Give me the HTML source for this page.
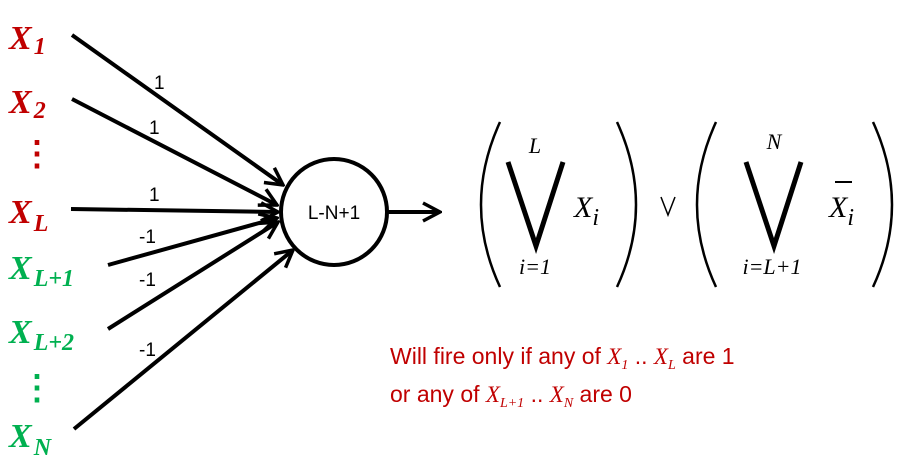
<!DOCTYPE html>
<html><head><meta charset="utf-8"><style>
html,body{margin:0;padding:0;background:#fff;}
svg{display:block;}
.lab{font-family:"Liberation Serif",serif;font-weight:bold;font-style:italic;font-size:34px;}
.red{fill:#c00000;} .grn{fill:#00b050;}
.w{font-family:"Liberation Sans",sans-serif;font-size:19px;fill:#000;}
.m{font-family:"Liberation Serif",serif;font-style:italic;fill:#000;}
.t{font-family:"Liberation Sans",sans-serif;font-size:23px;fill:#c00000;}
</style></head><body>
<svg width="908" height="473" viewBox="0 0 908 473">
<defs>
<marker id="ah2" markerWidth="22" markerHeight="22" refX="20" refY="11" orient="auto" markerUnits="userSpaceOnUse"><path d="M3,2 L20,11 L3,20" fill="none" stroke="#000" stroke-width="3.5"/></marker></defs>
<g stroke="#000" stroke-width="4" fill="none">
<line x1="72" y1="35" x2="283" y2="185" marker-end="url(#ah2)"/>
<line x1="72" y1="99" x2="277" y2="205" marker-end="url(#ah2)"/>
<line x1="71" y1="209" x2="278" y2="212" marker-end="url(#ah2)"/>
<line x1="108" y1="265" x2="277" y2="218" marker-end="url(#ah2)"/>
<line x1="108" y1="329" x2="278" y2="222" marker-end="url(#ah2)"/>
<line x1="74" y1="429" x2="293" y2="250" marker-end="url(#ah2)"/>
<line x1="388" y1="212" x2="440" y2="212" marker-end="url(#ah2)"/>
<circle cx="334" cy="212" r="53"/>
</g>
<text x="334" y="219" text-anchor="middle" class="w">L-N+1</text>
<text class="w" x="154" y="89">1</text>
<text class="w" x="149" y="134">1</text>
<text class="w" x="149" y="201">1</text>
<text class="w" x="139" y="243">-1</text>
<text class="w" x="139" y="286">-1</text>
<text class="w" x="139" y="356">-1</text>
<text class="lab red" x="9" y="49">X<tspan font-size="24" dx="2" dy="5">1</tspan></text>
<text class="lab red" x="9" y="113">X<tspan font-size="24" dx="2" dy="5">2</tspan></text>
<text class="lab red" x="20" y="165" font-size="24" style="font-style:normal">⋮</text>
<text class="lab red" x="9" y="223">X<tspan font-size="24" dx="2" dy="8">L</tspan></text>
<text class="lab grn" x="9" y="279">X<tspan font-size="24" dx="2" dy="7">L+1</tspan></text>
<text class="lab grn" x="9" y="343">X<tspan font-size="24" dx="2" dy="7">L+2</tspan></text>
<text class="lab grn" x="20" y="399" font-size="24" style="font-style:normal">⋮</text>
<text class="lab grn" x="9" y="447">X<tspan font-size="24" dx="2" dy="8">N</tspan></text>
<g stroke="#000" fill="none" stroke-width="2.5">
<path d="M500,122 Q462,205 500,287"/>
<path d="M617,122 Q655,205 617,287"/>
<path d="M716,122 Q678,205 716,287"/>
<path d="M873,122 Q911,205 873,287"/>
<path d="M508,162 L536,246 L563,162" stroke-width="5"/>
<path d="M746,162 L774,246 L801,162" stroke-width="5"/>
<path d="M661,197 L668,215 L675,197" stroke-width="1.5"/>
<line x1="835" y1="182" x2="852" y2="182" stroke-width="2"/>
</g>
<text class="m" x="535" y="153" font-size="22" text-anchor="middle">L</text>
<text class="m" x="535" y="274" font-size="22" text-anchor="middle">i=1</text>
<text class="m" x="574" y="217" font-size="30">X<tspan font-size="24" dy="8">i</tspan></text>
<text class="m" x="774" y="149" font-size="22" text-anchor="middle">N</text>
<text class="m" x="772" y="274" font-size="22" text-anchor="middle">i=L+1</text>
<text class="m" x="829" y="217" font-size="30">X<tspan font-size="24" dy="8">i</tspan></text>
<text class="t" x="390" y="364">Will fire only if any of <tspan class="m" style="fill:#c00000">X<tspan font-size="14" dy="5">1</tspan></tspan><tspan dy="-5"> .. </tspan><tspan class="m" style="fill:#c00000">X<tspan font-size="14" dy="5">L</tspan></tspan><tspan dy="-5"> are 1</tspan></text>
<text class="t" x="390" y="402">or any of <tspan class="m" style="fill:#c00000">X<tspan font-size="14" dy="5">L+1</tspan></tspan><tspan dy="-5"> .. </tspan><tspan class="m" style="fill:#c00000">X<tspan font-size="14" dy="5">N</tspan></tspan><tspan dy="-5"> are 0</tspan></text>
</svg>
</body></html>
